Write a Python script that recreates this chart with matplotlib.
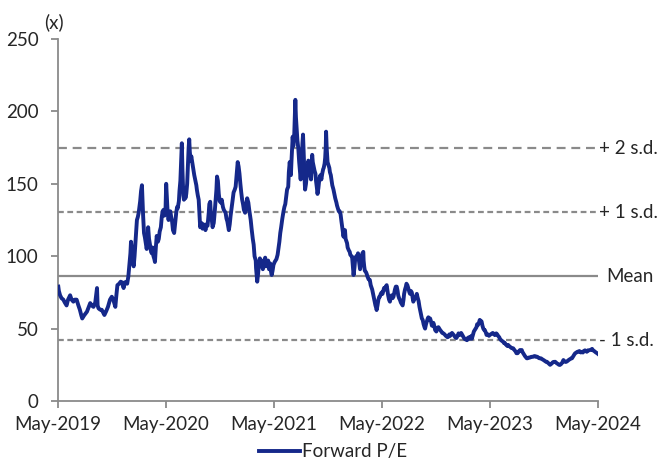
import matplotlib
matplotlib.use("Agg")
import matplotlib.pyplot as plt
import matplotlib.dates as mdates
import pandas as pd

# Forward P/E history
dates = [
    "2019-05-02", "2019-05-04", "2019-05-08", "2019-05-13", "2019-05-19", "2019-05-24", "2019-05-30",
    "2019-06-04", "2019-06-11", "2019-06-16", "2019-06-22", "2019-06-27",
    "2019-07-03", "2019-07-09", "2019-07-14", "2019-07-19", "2019-07-22", "2019-07-28",
    "2019-08-07", "2019-08-13", "2019-08-18", "2019-08-23", "2019-08-29",
    "2019-09-04", "2019-09-10", "2019-09-12", "2019-09-15", "2019-09-21", "2019-09-26",
    "2019-10-01", "2019-10-05", "2019-10-11", "2019-10-17", "2019-10-21", "2019-10-24", "2019-10-30",
    "2019-11-04", "2019-11-11", "2019-11-14", "2019-11-18", "2019-11-24", "2019-11-29",
    "2019-12-03", "2019-12-09", "2019-12-13", "2019-12-17", "2019-12-21", "2019-12-25", "2019-12-28",
    "2020-01-01", "2020-01-03", "2020-01-06", "2020-01-09", "2020-01-12", "2020-01-15", "2020-01-18",
    "2020-01-21", "2020-01-23", "2020-01-26", "2020-01-29",
    "2020-02-03", "2020-02-06", "2020-02-09", "2020-02-11", "2020-02-13", "2020-02-16", "2020-02-19",
    "2020-02-22", "2020-02-25", "2020-02-28",
    "2020-03-01", "2020-03-04", "2020-03-08", "2020-03-10", "2020-03-13", "2020-03-16", "2020-03-19",
    "2020-03-22", "2020-03-24", "2020-03-27", "2020-03-30",
    "2020-04-03", "2020-04-06", "2020-04-09", "2020-04-13", "2020-04-16", "2020-04-19", "2020-04-22",
    "2020-04-25", "2020-04-29",
    "2020-05-01", "2020-05-04", "2020-05-06", "2020-05-09", "2020-05-12", "2020-05-15", "2020-05-18",
    "2020-05-21", "2020-05-24", "2020-05-28",
    "2020-06-01", "2020-06-04", "2020-06-07", "2020-06-09", "2020-06-13", "2020-06-15", "2020-06-18",
    "2020-06-21", "2020-06-23", "2020-06-25", "2020-06-28", "2020-06-30",
    "2020-07-03", "2020-07-05", "2020-07-08", "2020-07-11", "2020-07-14", "2020-07-16", "2020-07-18",
    "2020-07-20", "2020-07-23", "2020-07-25", "2020-07-28",
    "2020-08-01", "2020-08-04", "2020-08-08", "2020-08-11", "2020-08-13", "2020-08-16", "2020-08-19",
    "2020-08-22", "2020-08-24", "2020-08-28",
    "2020-09-01", "2020-09-04", "2020-09-08", "2020-09-11", "2020-09-14", "2020-09-18", "2020-09-22",
    "2020-09-24", "2020-09-27", "2020-09-29",
    "2020-10-03", "2020-10-05", "2020-10-09", "2020-10-12", "2020-10-15", "2020-10-18", "2020-10-20",
    "2020-10-23", "2020-10-26", "2020-10-29",
    "2020-11-02", "2020-11-05", "2020-11-09", "2020-11-12", "2020-11-15", "2020-11-18", "2020-11-21",
    "2020-11-24", "2020-11-29",
    "2020-12-02", "2020-12-05", "2020-12-09", "2020-12-12", "2020-12-15", "2020-12-19", "2020-12-22",
    "2020-12-25", "2020-12-29",
    "2021-01-01", "2021-01-04", "2021-01-07", "2021-01-10", "2021-01-13", "2021-01-16", "2021-01-19",
    "2021-01-23", "2021-01-26", "2021-01-30",
    "2021-02-03", "2021-02-06", "2021-02-09", "2021-02-11", "2021-02-14", "2021-02-18", "2021-02-21",
    "2021-02-24", "2021-02-28",
    "2021-03-01", "2021-03-03", "2021-03-05", "2021-03-08", "2021-03-11", "2021-03-14", "2021-03-18",
    "2021-03-21", "2021-03-24", "2021-03-28",
    "2021-04-01", "2021-04-04", "2021-04-08", "2021-04-11", "2021-04-14", "2021-04-18", "2021-04-21",
    "2021-04-23", "2021-04-26", "2021-04-29",
    "2021-05-03", "2021-05-06", "2021-05-09", "2021-05-13", "2021-05-15", "2021-05-19", "2021-05-22",
    "2021-05-25", "2021-05-29",
    "2021-06-02", "2021-06-05", "2021-06-08", "2021-06-11", "2021-06-14", "2021-06-18", "2021-06-20",
    "2021-06-23", "2021-06-25", "2021-06-27", "2021-06-29",
    "2021-07-02", "2021-07-03", "2021-07-05", "2021-07-08", "2021-07-10", "2021-07-12", "2021-07-14",
    "2021-07-17", "2021-07-19", "2021-07-22", "2021-07-25", "2021-07-28", "2021-07-30",
    "2021-08-03", "2021-08-05", "2021-08-07", "2021-08-09", "2021-08-11", "2021-08-13", "2021-08-14",
    "2021-08-17", "2021-08-20", "2021-08-23", "2021-08-25", "2021-08-28", "2021-08-30",
    "2021-09-03", "2021-09-05", "2021-09-07", "2021-09-09", "2021-09-13", "2021-09-15", "2021-09-18",
    "2021-09-20", "2021-09-23", "2021-09-25", "2021-09-28", "2021-09-30",
    "2021-10-03", "2021-10-05", "2021-10-08", "2021-10-11", "2021-10-14", "2021-10-16", "2021-10-19",
    "2021-10-21", "2021-10-23", "2021-10-24", "2021-10-26", "2021-10-29",
    "2021-11-01", "2021-11-04", "2021-11-06", "2021-11-09", "2021-11-12", "2021-11-14", "2021-11-18",
    "2021-11-21", "2021-11-24", "2021-11-28", "2021-11-30",
    "2021-12-03", "2021-12-06", "2021-12-09", "2021-12-12", "2021-12-15", "2021-12-19", "2021-12-22",
    "2021-12-24", "2021-12-27", "2021-12-29",
    "2022-01-03", "2022-01-05", "2022-01-09", "2022-01-12", "2022-01-14", "2022-01-18", "2022-01-20",
    "2022-01-23", "2022-01-25", "2022-01-28", "2022-01-30",
    "2022-02-03", "2022-02-05", "2022-02-09", "2022-02-11", "2022-02-14", "2022-02-16", "2022-02-19",
    "2022-02-21", "2022-02-24", "2022-02-27", "2022-02-28",
    "2022-03-02", "2022-03-04", "2022-03-08", "2022-03-10", "2022-03-13", "2022-03-17", "2022-03-21",
    "2022-03-24", "2022-03-29",
    "2022-04-02", "2022-04-05", "2022-04-09", "2022-04-12", "2022-04-13", "2022-04-16", "2022-04-19",
    "2022-04-22", "2022-04-24", "2022-04-27", "2022-04-30",
    "2022-05-03", "2022-05-05", "2022-05-08", "2022-05-11", "2022-05-14", "2022-05-17", "2022-05-19",
    "2022-05-22", "2022-05-25", "2022-05-28", "2022-05-30",
    "2022-06-03", "2022-06-06", "2022-06-09", "2022-06-12", "2022-06-14", "2022-06-17", "2022-06-20",
    "2022-06-23", "2022-06-25", "2022-06-28",
    "2022-07-01", "2022-07-04", "2022-07-07", "2022-07-10", "2022-07-13", "2022-07-15", "2022-07-18",
    "2022-07-21", "2022-07-23", "2022-07-26", "2022-07-29",
    "2022-08-02", "2022-08-04", "2022-08-07", "2022-08-10", "2022-08-13", "2022-08-15", "2022-08-18",
    "2022-08-21", "2022-08-24", "2022-08-27", "2022-08-29",
    "2022-09-02", "2022-09-05", "2022-09-08", "2022-09-10", "2022-09-13", "2022-09-16", "2022-09-19",
    "2022-09-22", "2022-09-24", "2022-09-27", "2022-09-30",
    "2022-10-03", "2022-10-05", "2022-10-08", "2022-10-11", "2022-10-14", "2022-10-17", "2022-10-19",
    "2022-10-22", "2022-10-25", "2022-10-28",
    "2022-11-01", "2022-11-04", "2022-11-08", "2022-11-11", "2022-11-14", "2022-11-18", "2022-11-21",
    "2022-11-25", "2022-11-29",
    "2022-12-03", "2022-12-07", "2022-12-09", "2022-12-12", "2022-12-15", "2022-12-18", "2022-12-21",
    "2022-12-24", "2022-12-28",
    "2023-01-01", "2023-01-04", "2023-01-08", "2023-01-12", "2023-01-15", "2023-01-18", "2023-01-21",
    "2023-01-24", "2023-01-28",
    "2023-02-01", "2023-02-04", "2023-02-08", "2023-02-11", "2023-02-13", "2023-02-16", "2023-02-19",
    "2023-02-22", "2023-02-24", "2023-02-28",
    "2023-03-01", "2023-03-04", "2023-03-08", "2023-03-11", "2023-03-14", "2023-03-17", "2023-03-19",
    "2023-03-22", "2023-03-25", "2023-03-28",
    "2023-04-01", "2023-04-03", "2023-04-06", "2023-04-09", "2023-04-12", "2023-04-14", "2023-04-18",
    "2023-04-20", "2023-04-23", "2023-04-25", "2023-04-28",
    "2023-05-01", "2023-05-04", "2023-05-08", "2023-05-11", "2023-05-14", "2023-05-18", "2023-05-21",
    "2023-05-23", "2023-05-26", "2023-05-29",
    "2023-06-02", "2023-06-04", "2023-06-08", "2023-06-11", "2023-06-15", "2023-06-18", "2023-06-21",
    "2023-06-24", "2023-06-27", "2023-06-29",
    "2023-07-02", "2023-07-05", "2023-07-08", "2023-07-11", "2023-07-14", "2023-07-19", "2023-07-22",
    "2023-07-24", "2023-07-28", "2023-07-30",
    "2023-08-03", "2023-08-05", "2023-08-08", "2023-08-11", "2023-08-14", "2023-08-17", "2023-08-19",
    "2023-08-22", "2023-08-25", "2023-08-28",
    "2023-09-01", "2023-09-03", "2023-09-06", "2023-09-09", "2023-09-12", "2023-09-14", "2023-09-18",
    "2023-09-21", "2023-09-24", "2023-09-28",
    "2023-10-01", "2023-10-04", "2023-10-07", "2023-10-09", "2023-10-12", "2023-10-15", "2023-10-18",
    "2023-10-21", "2023-10-24", "2023-10-28",
    "2023-11-01", "2023-11-04", "2023-11-08", "2023-11-10", "2023-11-13", "2023-11-15", "2023-11-18",
    "2023-11-21", "2023-11-24", "2023-11-27", "2023-11-29",
    "2023-12-02", "2023-12-05", "2023-12-08", "2023-12-11", "2023-12-14", "2023-12-18", "2023-12-21",
    "2023-12-24", "2023-12-28",
    "2024-01-01", "2024-01-05", "2024-01-08", "2024-01-11", "2024-01-14", "2024-01-18", "2024-01-21",
    "2024-01-24", "2024-01-28",
    "2024-02-01", "2024-02-03", "2024-02-06", "2024-02-09", "2024-02-12", "2024-02-14", "2024-02-18",
    "2024-02-21", "2024-02-24", "2024-02-28",
    "2024-03-01", "2024-03-04", "2024-03-08", "2024-03-11", "2024-03-14", "2024-03-18", "2024-03-21",
    "2024-03-24", "2024-03-28",
    "2024-04-01", "2024-04-04", "2024-04-08", "2024-04-11", "2024-04-14", "2024-04-18", "2024-04-21",
    "2024-04-24", "2024-04-28", "2024-05-01",
]

forward_pe = [
    79, 76, 73, 71, 70, 68, 66,
    70, 73, 70, 68.6, 70,
    70, 66, 63, 59, 57, 59,
    61.7, 65, 67.6, 66, 65,
    68, 78, 66, 64, 63, 63,
    61, 59.4, 62, 65, 68, 70, 72,
    70, 65, 72, 80, 81, 82.4,
    82, 78, 82, 82, 81, 86, 93,
    102, 110, 104, 97, 93, 100, 109,
    118, 125, 127, 130,
    138, 145, 149, 138, 128, 116, 113,
    109, 105, 110,
    120, 112, 107, 104, 102, 106, 100,
    98, 96, 106, 114,
    110, 112, 117, 120, 127, 131, 132,
    128, 134,
    150, 138, 130, 125, 129, 131, 127,
    124, 118, 116,
    124, 130, 134, 133, 138, 145, 152,
    168, 178, 160, 142, 139,
    145, 140, 143, 150, 165, 175, 180.7,
    172, 166, 169, 165,
    160, 156, 152, 149, 145.7, 142, 139,
    128, 120, 123,
    119, 122, 121, 118, 122, 121, 130,
    136, 137.6, 130,
    124, 120, 123, 130, 138, 146, 155,
    152, 143, 138,
    137, 139, 134, 132, 131, 130, 126,
    124, 118,
    122, 128, 134, 139, 144, 146, 148,
    155, 165,
    162, 157, 150, 144, 139, 136, 132,
    130, 134, 140,
    137, 132, 128, 125, 119, 112, 108,
    100, 97,
    92, 87, 82.4, 88, 95, 98.5, 93,
    97, 91, 94,
    99, 93, 96, 97, 91, 95, 89,
    87, 90, 94,
    96, 97, 98, 101, 104, 110, 116,
    120, 126,
    131, 134, 136, 141, 146, 148, 158,
    165, 160, 156, 166,
    178, 182.5, 176, 182, 196, 208, 196,
    187, 180, 174.5, 165, 158, 153,
    168, 178, 184, 172, 160, 150, 146,
    150, 157, 162, 166, 163, 158,
    153, 162, 170, 165, 161, 159, 157,
    152, 147, 143, 147, 151,
    155, 156, 153, 157, 160, 161, 164,
    168, 176, 186, 175, 165,
    163, 161, 158, 156, 152, 149, 146,
    143, 140, 137, 135,
    133, 131, 131, 129, 124, 118, 113.5,
    117, 118, 112,
    109, 106, 104, 103, 101, 100, 99.7,
    92, 87, 92, 97,
    100, 98, 102, 99, 95, 91, 96,
    100, 102, 103, 97,
    93, 90, 89, 88, 86, 84, 83.6,
    80, 77,
    73, 70, 66, 64, 62.8, 66, 70,
    72, 72, 74, 75,
    74, 75.5, 78, 77, 79, 80, 77,
    73, 70, 68.6, 71,
    73, 71, 72, 75, 77, 79, 79,
    76, 73, 71,
    69.8, 68, 67, 66, 70, 74, 77,
    79, 81, 80, 78,
    75, 74, 76, 75, 71, 68.6, 70,
    71, 72, 74, 72,
    69, 65, 62, 60, 57, 56, 53,
    51, 50, 53, 55,
    57, 57.8, 56, 57, 55, 52, 52,
    54, 52, 49,
    48, 50, 51, 50, 49, 48, 47,
    46.7, 46,
    45, 44.4, 44, 44.4, 46, 45, 46,
    47, 46,
    45, 44, 43.5, 45, 46.7, 45.5, 46,
    47, 45.5,
    44, 43, 42.5, 43, 42, 43.5, 44,
    43, 44, 45,
    43, 45, 48, 49, 50, 51, 53,
    52.5, 54, 56,
    55, 55, 52, 50, 49, 49, 47,
    45.6, 46, 46, 45,
    45.6, 46, 46.5, 47, 46.5, 45.5, 46.5,
    46.7, 46, 45,
    44, 43, 42, 41.5, 41, 40, 40,
    39, 38.7, 38,
    38.7, 38, 37.5, 37, 36.5, 36.4, 35.5,
    35, 34, 33,
    33, 33.5, 34.5, 35.2, 35, 35.2, 34,
    33, 32, 31,
    30, 29.5, 29.5, 30, 30, 30, 30.5,
    30.5, 30.5, 31,
    31, 30.5, 30.6, 30.5, 30, 29.5, 29.5,
    29.5, 29, 28.5,
    28, 27.5, 27, 27.1, 26.5, 26, 25.5,
    25, 25.5, 26, 26.5,
    27, 27, 27.1, 26.5, 26, 25.5, 25,
    24.9, 25.5,
    26.5, 28.3, 27.5, 27, 27, 27.5, 28,
    28.5, 29,
    29.5, 29.5, 30.5, 31.5, 32.5, 33, 33.5,
    34, 34, 34.5,
    34, 33.5, 34, 33.5, 34.5, 35, 34.5,
    34, 35,
    35, 35.2, 35.5, 36, 35, 34.5, 34,
    33.5, 33, 32.5,
]

# Long-run average and standard-deviation bands
pe_mean = 86.3
pe_sd = 44.2
band_labels = ["+ 2 s.d.", "+ 1 s.d.", "Mean", "- 1 s.d."]
band_multiples = [2, 1, 0, -1]

tick_years = [2019, 2020, 2021, 2022, 2023, 2024]
y_ticks = [0, 50, 100, 150, 200, 250]

navy = "#15288a"
grey = "#8a8a8a"
text_col = "#262626"
font = "Lato"
fs = 13.5

plt.rcParams["font.family"] = [font, "DejaVu Sans"]

fig = plt.figure(figsize=(6.66, 4.62), dpi=100)
ax = fig.add_axes([58 / 666, 1 - 401 / 462, 540 / 666, 362 / 462])

t = pd.to_datetime(dates)
x0 = pd.Timestamp(f"{tick_years[0]}-05-01")
x1 = pd.Timestamp(f"{tick_years[-1]}-05-01")

band_styles = {
    2: dict(linestyle=(0, (4.0, 2.6)), linewidth=1.6),
    1: dict(linestyle=(0, (2.6, 1.6)), linewidth=1.6),
    0: dict(linestyle="-", linewidth=1.6),
    -1: dict(linestyle=(0, (2.6, 1.6)), linewidth=1.6),
}
for lab, k in zip(band_labels, band_multiples):
    level = pe_mean + k * pe_sd
    ax.plot([x0, x1], [level, level], color=grey, zorder=2, **band_styles[k])
    dx = 6 if k == 0 else 1
    ax.annotate(lab, xy=(1.0, level), xycoords=("axes fraction", "data"),
                xytext=(dx, 0), textcoords="offset points",
                va="center", ha="left", fontsize=fs, color=text_col,
                annotation_clip=False)

ax.plot(t, forward_pe, color=navy, linewidth=2.8, zorder=3,
        solid_joinstyle="round", label="Forward P/E")

ax.set_xlim(x0, x1)
ax.set_ylim(0, 250)
ax.set_yticks(y_ticks)
ax.set_xticks([pd.Timestamp(f"{y}-05-01") for y in tick_years])
ax.xaxis.set_major_formatter(mdates.DateFormatter("%b-%Y"))

for s in ["top", "right"]:
    ax.spines[s].set_visible(False)
for s in ["left", "bottom"]:
    ax.spines[s].set_color(grey)
    ax.spines[s].set_linewidth(1.3)

ax.tick_params(axis="both", colors=grey, length=5, width=1.3, labelsize=fs,
               labelcolor=text_col)
ax.tick_params(axis="y", pad=9)
ax.tick_params(axis="x", pad=6)

fig.text(54 / 666, 1 - 22 / 462, "(x)", ha="center", va="center",
         fontsize=fs, color=text_col)

fig.legend(loc="center", bbox_to_anchor=(0.5, 1 - 452 / 462), frameon=False,
           fontsize=fs, handlelength=2.2, handletextpad=0.1,
           labelcolor=text_col, borderaxespad=0)

fig.savefig("out.png", dpi=100)
